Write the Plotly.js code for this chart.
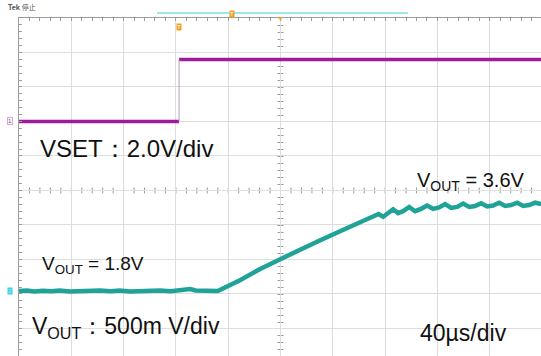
<!DOCTYPE html>
<html><head><meta charset="utf-8">
<script src="https://cdn.plot.ly/plotly-3.0.1.min.js"></script>
<style>html,body{margin:0;padding:0;background:#fff}#chart{width:541px;height:356px}</style>
</head><body><div id="chart"></div>
<script>
// ---- data (read from the scope capture) ----
const vsetTime  = [-120, 2.4, 2.4, 279.2];   // µs
const vsetVolts = [0, 0, 3.6, 3.6];          // V

const voutTime = [-120, -114, -108, -102, -95, -89, -81, -73, -66, -58, -50, -43, -35, -27, -20, -12, -4, 3, 11, 15, 22, 28, 32,
  49, 64, 81, 95, 110, 126, 141, 155,
  158.5, 162.3, 166.1, 169.9, 173.8, 178.4, 182.9, 187.5, 192.1, 196.7, 201.3, 205.9, 210.5, 215.1, 219.7, 224.3, 228.8,
  233.4, 238.0, 242.6, 247.2, 251.8, 256.4, 261.0, 265.6, 270.2, 274.7, 279.3];
const voutVolts = [1.80, 1.81, 1.79, 1.805, 1.795, 1.81, 1.79, 1.805, 1.795, 1.81, 1.795, 1.81, 1.79, 1.805, 1.80, 1.81, 1.795, 1.805, 1.84, 1.81, 1.80, 1.805, 1.80,
  2.03, 2.26, 2.49, 2.68, 2.87, 3.07, 3.26, 3.43,
  3.37, 3.45, 3.53, 3.45, 3.49, 3.58, 3.49, 3.54, 3.61, 3.54, 3.57, 3.64, 3.56, 3.58, 3.65, 3.58, 3.60,
  3.66, 3.59, 3.61, 3.67, 3.60, 3.62, 3.67, 3.60, 3.62, 3.67, 3.64];

const textVset    = 'VSET\uFF1A2.0V/div';
const textVout18  = 'V<sub>OUT</sub> = 1.8V';
const textVout36  = 'V<sub>OUT</sub> = 3.6V';
const textVoutDiv = 'V<sub>OUT</sub>\uFF1A500m V/div';
const textTime    = '40\u00B5s/div';

// ---- geometry helpers (pixel -> paper) ----
const W = 541, H = 356, ML = 19, MT = 18;
const PW = W - ML, PH = H - MT;
const px = x => (x - ML) / PW;
const py = y => (H - y) / PH;

const purple = '#a01aa0', teal = '#1fa398', orange = '#f0a020', cyanBar = '#7fe0e0';
const gridC = '#dedede', axC = '#9c9c9c';
const FONT = 'Liberation Sans, Arial, sans-serif';

const traces = [
  {x: [vsetTime[0], vsetTime[1], null, vsetTime[2], vsetTime[3]],
   y: [vsetVolts[0], vsetVolts[1], null, vsetVolts[2], vsetVolts[3]],
   mode: 'lines', line: {color: purple, width: 3.5}, hoverinfo: 'skip', showlegend: false},
  {x: [vsetTime[1], vsetTime[2]], y: [vsetVolts[1], vsetVolts[2]],
   mode: 'lines', line: {color: '#b89ab8', width: 1}, hoverinfo: 'skip', showlegend: false},
  {x: voutTime, y: voutVolts, yaxis: 'y2',
   mode: 'lines', line: {color: teal, width: 4.5}, hoverinfo: 'skip', showlegend: false}
];

const xr = [-120, 279.2];
const yr = [-13.6, 6.0];
const xDiv = 40, yDiv = 2, nMinor = 5;
const centerX = 80, centerY = -4;
const posCY = (centerY - yr[0]) / (yr[1] - yr[0]);
const posCX = (centerX - xr[0]) / (xr[1] - xr[0]);
const crispY = v => { const p = Math.round(MT + (yr[1] - v) / (yr[1] - yr[0]) * PH) + 0.5; return 1 - (p - MT) / PH; };

// centre graticule: solid horizontal line + tick marks on both centre lines
const shapes = [];
shapes.push({type: 'line', layer: 'below', xref: 'paper', yref: 'paper', x0: 0, x1: 1, y0: crispY(centerY), y1: crispY(centerY), line: {color: axC, width: 1}});
shapes.push({type: 'line', xref: 'paper', yref: 'paper', x0: px(157), x1: px(408), y0: py(13), y1: py(13), line: {color: cyanBar, width: 1.5}});
const tl = 3 / PH, tlx = 3 / PW;
for (let t = xr[0] + xDiv / nMinor; t < xr[1]; t += xDiv / nMinor) {
  shapes.push({type: 'line', layer: 'below', xref: 'x', yref: 'paper', x0: t, x1: t, y0: posCY - tl, y1: posCY + tl, line: {color: axC, width: 1}});
}
for (let v = yr[0] + 0.4; v < yr[1]; v += yDiv / nMinor) {
  shapes.push({type: 'line', layer: 'below', xref: 'paper', yref: 'paper', x0: posCX - tlx, x1: posCX + tlx, y0: crispY(v), y1: crispY(v), line: {color: axC, width: 1}});
}

const ann = (text, xl, yc, size) => ({text: text, xref: 'paper', yref: 'paper', x: px(xl), y: py(yc),
  xanchor: 'left', yanchor: 'middle', showarrow: false, font: {family: FONT, size: size, color: '#111'}});

const layout = {
  width: W, height: H, margin: {l: ML, r: 0, t: MT, b: 0},
  paper_bgcolor: '#fff', plot_bgcolor: 'rgba(0,0,0,0)', showlegend: false,
  xaxis: {range: xr, side: 'top', showline: true, linecolor: axC, linewidth: 1, mirror: false,
    ticks: 'inside', ticklen: 3, tickcolor: axC, dtick: xDiv, tick0: 0, showticklabels: false,
    showgrid: true, gridcolor: gridC, gridwidth: 1, zeroline: false, fixedrange: true,
    minor: {dtick: xDiv / nMinor, tick0: 0, ticks: 'inside', ticklen: 3, tickcolor: axC, showgrid: false}},
  yaxis: {range: yr, side: 'left', showline: true, linecolor: axC, linewidth: 1,
    ticks: 'inside', ticklen: 3, tickcolor: axC, dtick: yDiv, tick0: 0, showticklabels: false,
    showgrid: true, gridcolor: gridC, gridwidth: 1, zeroline: false, fixedrange: true,
    minor: {dtick: yDiv / nMinor, tick0: 0, ticks: 'inside', ticklen: 3, tickcolor: axC, showgrid: false}},
  yaxis2: {range: [0.424, 7.581], overlaying: 'y', visible: false, fixedrange: true},
  shapes: shapes,
  annotations: [
    ann(textVset, 38, 148, 24),
    ann(textVout18, 40, 265, 19),
    ann(textVoutDiv, 30, 327, 23),
    ann(textVout36, 415, 181, 20),
    ann(textTime, 418, 333, 23),
    {text: '<b>Tek</b> 停止', xref: 'paper', yref: 'paper', x: px(6), y: py(7), xanchor: 'left', yanchor: 'middle',
     showarrow: false, font: {family: 'Noto Sans CJK SC, ' + FONT, size: 7, color: '#555'}},
    {text: '1', xref: 'paper', yref: 'y', x: px(7), y: vsetVolts[0], xanchor: 'left', yanchor: 'middle',
     showarrow: false, font: {family: FONT, size: 6, color: purple}, bgcolor: '#fff', bordercolor: '#d8a8d8', borderwidth: 1, borderpad: 0},
    {text: '2', xref: 'paper', yref: 'y2', x: px(7), y: voutVolts[0], xanchor: 'left', yanchor: 'middle',
     showarrow: false, font: {family: FONT, size: 6, color: '#a0f0f0'}, bgcolor: '#40d0e0', borderpad: 0},
    {text: 'T', xref: 'x', yref: 'paper', x: vsetTime[1], y: py(27), xanchor: 'center', yanchor: 'middle',
     showarrow: false, font: {family: FONT, size: 6, color: '#fff'}, bgcolor: orange, borderpad: 0},
    {text: 'T', xref: 'paper', yref: 'paper', x: px(232), y: py(14), xanchor: 'center', yanchor: 'middle',
     showarrow: false, font: {family: FONT, size: 6, color: '#fff'}, bgcolor: orange, borderpad: 0},
    {text: '▼', xref: 'x', yref: 'paper', x: centerX, y: py(18), xanchor: 'center', yanchor: 'middle',
     showarrow: false, font: {family: FONT, size: 7, color: orange}}
  ]
};

Plotly.newPlot('chart', traces, layout, {displayModeBar: false, staticPlot: true});
</script>
</body></html>
